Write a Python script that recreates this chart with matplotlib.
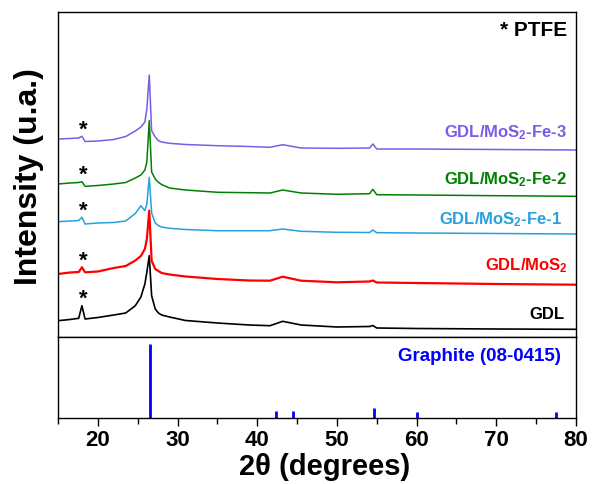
import numpy as np
import matplotlib
matplotlib.use('Agg')
import matplotlib.pyplot as plt

plt.rcParams['font.family'] = ['Liberation Sans', 'DejaVu Sans']
plt.rcParams['font.weight'] = 'bold'
plt.rcParams['mathtext.fontset'] = 'custom'
plt.rcParams['mathtext.rm'] = 'Liberation Sans:bold'
plt.rcParams['mathtext.it'] = 'Liberation Sans:bold'
plt.rcParams['mathtext.bf'] = 'Liberation Sans:bold'

# 2theta grid (degrees)
two_theta = [15.0, 16.5, 17.6, 18.0, 18.4, 20.0, 22.0, 23.5, 24.7, 25.4, 25.9, 26.15,
             26.45, 26.75, 27.2, 27.6, 28.0, 29.0, 31.0, 35.0, 39.0, 41.6, 43.2, 45.5,
             50.0, 54.1, 54.5, 55.0, 60.0, 70.0, 80.0]

# intensities (a.u., already stacked)
gdl = [15.8, 17.0, 18.2, 30.8, 17.5, 19.0, 21.5, 23.5, 30.8, 39.5, 52.5, 64.5, 80.8, 40.8,
       27.5, 23.5, 21.5, 19.5, 16.0, 13.5, 11.5, 10.8, 15.2, 11.5, 9.5, 10.0, 11.0, 8.5,
       8.0, 7.5, 7.2]
gdl_mos2 = [62.5, 64.0, 64.5, 69.2, 64.2, 65.0, 68.5, 70.5, 76.0, 80.5, 87.5, 97.5, 125.8,
            75.8, 67.5, 65.5, 63.5, 62.0, 60.0, 57.5, 56.0, 55.8, 59.8, 55.8, 54.2, 55.0,
            56.0, 54.0, 53.5, 52.5, 51.8]
fe1 = [114.8, 115.5, 116.0, 119.2, 112.5, 113.5, 114.0, 115.5, 123.0, 130.8, 125.8, 132.5,
       159.2, 123.5, 113.5, 110.8, 109.5, 108.2, 107.0, 105.8, 105.8, 105.8, 107.5, 105.2,
       104.2, 104.0, 106.5, 103.8, 103.5, 103.0, 102.5]
fe2 = [152.5, 153.5, 154.0, 154.8, 150.2, 151.0, 152.5, 154.0, 158.5, 161.5, 166.5, 174.5,
       215.8, 164.5, 157.5, 154.2, 152.0, 148.5, 146.5, 144.2, 143.8, 143.5, 146.5, 143.5,
       142.2, 142.8, 147.2, 141.8, 141.5, 140.8, 140.2]
fe3 = [197.5, 198.0, 198.5, 200.2, 195.0, 195.5, 197.0, 200.0, 205.5, 209.5, 214.5, 227.5,
       261.5, 205.8, 199.5, 195.8, 194.5, 193.2, 192.0, 190.8, 190.0, 189.2, 191.8, 188.5,
       188.2, 188.5, 192.5, 187.5, 187.5, 187.0, 186.5]

names = ['GDL', 'GDL/MoS$_2$', 'GDL/MoS$_2$-Fe-1', 'GDL/MoS$_2$-Fe-2', 'GDL/MoS$_2$-Fe-3']
series = [gdl, gdl_mos2, fe1, fe2, fe3]
colors = ['black', '#ff0000', '#27a0dc', '#008000', '#7b5ce6']

# graphite reference card 08-0415
ref_pos = [26.5, 42.4, 44.5, 54.6, 60.0, 77.5]
ref_int = [100, 9, 10, 14, 8.5, 8.5]

fig = plt.figure(figsize=(5.92, 4.85), dpi=100)
ax1 = fig.add_axes([58/592, 1-337.5/485, 518/592, 324.5/485])
ax2 = fig.add_axes([58/592, 1-419/485, 518/592, 81.5/485])

lws = [1.2, 1.6, 1.1, 1.1, 1.1]
for y, c, lw in zip(series, colors, lws):
    ax1.plot(two_theta, y, color=c, lw=lw)

# PTFE stars above the ~18 deg peak
i18 = two_theta.index(18.0)
for y in series:
    ax1.text(18.2, y[i18] + 2, '*', ha='center', va='baseline', fontsize=16)

lab_y = [18.5, 67.5, 113.5, 153.5, 200.2]
lab_x = [78.6, 79.0, 78.3, 78.9, 78.85]
for n, c, lx, ly in zip(names, colors, lab_x, lab_y):
    ax1.text(lx, ly, n, color=c, ha='right', va='baseline', fontsize=12)
ax1.text(78.87, 301.5, '* PTFE', ha='right', va='baseline', fontsize=15)

ax1.set_xlim(15, 80)
ax1.set_ylim(0, 324.5)
ax1.set_xticks([])
ax1.set_yticks([])

ax2.vlines(ref_pos, 0, ref_int, color='#0000ff', lw=2)
ax2.text(78.1, 78.3, 'Graphite (08-0415)', color='#0000ff', ha='right', va='baseline', fontsize=13.5)
ax2.set_xlim(15, 80)
ax2.set_ylim(0, 109.4)
ax2.set_yticks([])
ax2.set_xticks([20, 30, 40, 50, 60, 70, 80])
ax2.set_xticks(np.arange(15, 81, 5), minor=True)
ax2.tick_params(axis='x', which='major', length=6, width=1, labelsize=16, pad=2)
ax2.tick_params(axis='x', which='minor', length=4, width=1)
for lab in ax2.get_xticklabels():
    lab.set_fontweight('bold')

for ax in (ax1, ax2):
    for s in ax.spines.values():
        s.set_linewidth(1)

fig.text(325/592, 1-467/485, '2\u03b8 (degrees)', ha='center', va='center', fontsize=21)
fig.text(29/592, 1-177/485, 'Intensity (u.a.)', ha='center', va='center', rotation=90, fontsize=23)

fig.savefig('out.png', dpi=100)
